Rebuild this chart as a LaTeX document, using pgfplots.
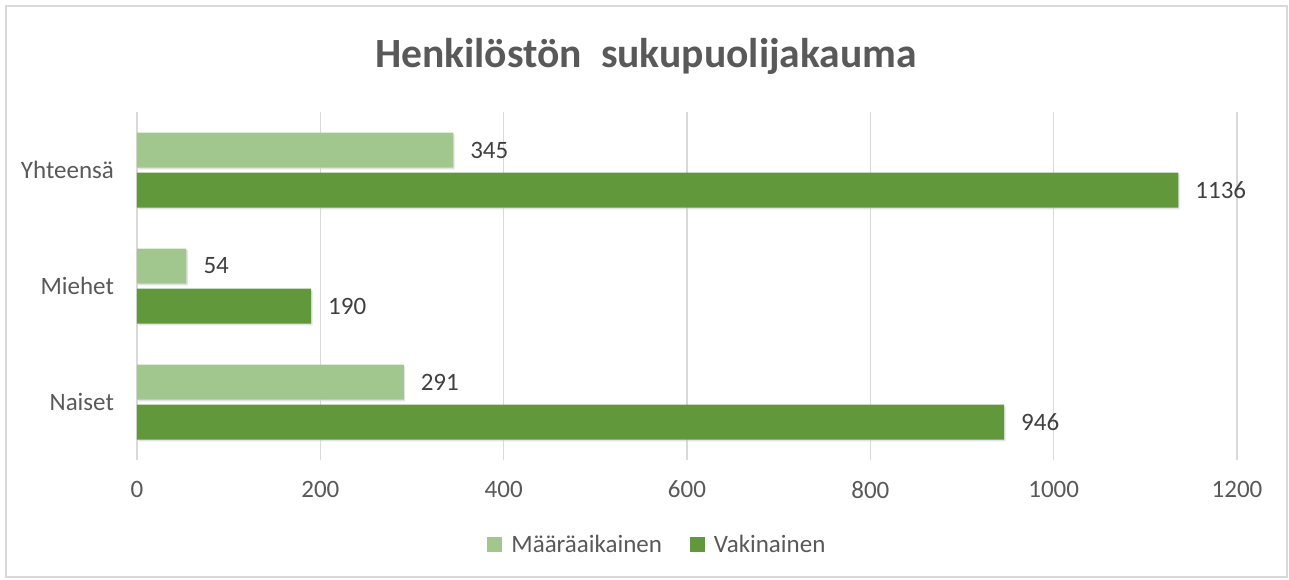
\documentclass[border=0pt]{standalone}
\usepackage{pgfplots}
\pgfplotsset{compat=1.18}
\usepackage{fontspec}
\setmainfont{Carlito}
\usetikzlibrary{shadows}
\definecolor{txt}{HTML}{595959}
\definecolor{lbl}{HTML}{404040}
\definecolor{gridc}{HTML}{D9D9D9}
\definecolor{lgmid}{HTML}{A2C78E}
\definecolor{dgmid}{HTML}{60983B}
\begin{document}
\begin{tikzpicture}
\path[use as bounding box] (-68.5pt,-59.5pt) rectangle (576pt,230pt);
\draw[gridc, line width=1pt] (-65.5pt,-58.5pt) rectangle (575pt,227pt);
\begin{axis}[
  at={(0,0)}, anchor=south west,
  scale only axis, width=550pt, height=174pt,
  xbar, bar width=17.5pt,
  xmin=0, xmax=1200, ymin=-0.5, ymax=2.5,
  xtick={0,200,...,1200},
  ytick={0,1,2}, yticklabels={Naiset,Miehet,Yhteensä},
  axis line style={draw=none},
  major tick length=0pt,
  xmajorgrids, major grid style={gridc, line width=0.8pt},
  /pgf/number format/assume math mode=true,
  /pgf/number format/1000 sep={},
  tick label style={font=\fontsize{12.5}{15}\selectfont, text=txt},
  xticklabel style={yshift=-7pt},
  yticklabel style={xshift=-8pt},
  nodes near coords,
  nodes near coords align={horizontal},
  every node near coord/.append style={font=\fontsize{12.5}{15}\selectfont, text=lbl, anchor=west, xshift=5pt},
  legend style={at={(0.474,-0.244)}, anchor=center, draw=none, fill=none,
    legend columns=2, font=\fontsize{12.5}{15}\selectfont, text=txt,
    /tikz/every even column/.append style={column sep=12pt}},
  legend image code/.code={\fill[#1] (0pt,-3.75pt) rectangle (7.5pt,3.75pt); \path (10pt,0pt);},
  clip=false,
]
\addplot[forget plot, bar shift=10pt, draw=none, fill=lgmid,
  drop shadow={shadow xshift=0.7pt, shadow yshift=-0.9pt, fill=black!22}]
  coordinates {(291,0) (54,1) (345,2)};
\addplot[forget plot, bar shift=-10pt, draw=none, fill=dgmid,
  drop shadow={shadow xshift=0.7pt, shadow yshift=-0.9pt, fill=black!22}]
  coordinates {(946,0) (190,1) (1136,2)};
\addlegendimage{draw=none, fill=lgmid}
\addlegendentry{Määräaikainen}
\addlegendimage{draw=none, fill=dgmid}
\addlegendentry{Vakinainen}
\end{axis}
\node[font=\fontsize{20.8}{25}\selectfont\bfseries, text=txt] at (254.5pt,202pt) {Henkilöstön\ \ sukupuolijakauma};
\end{tikzpicture}
\end{document}
